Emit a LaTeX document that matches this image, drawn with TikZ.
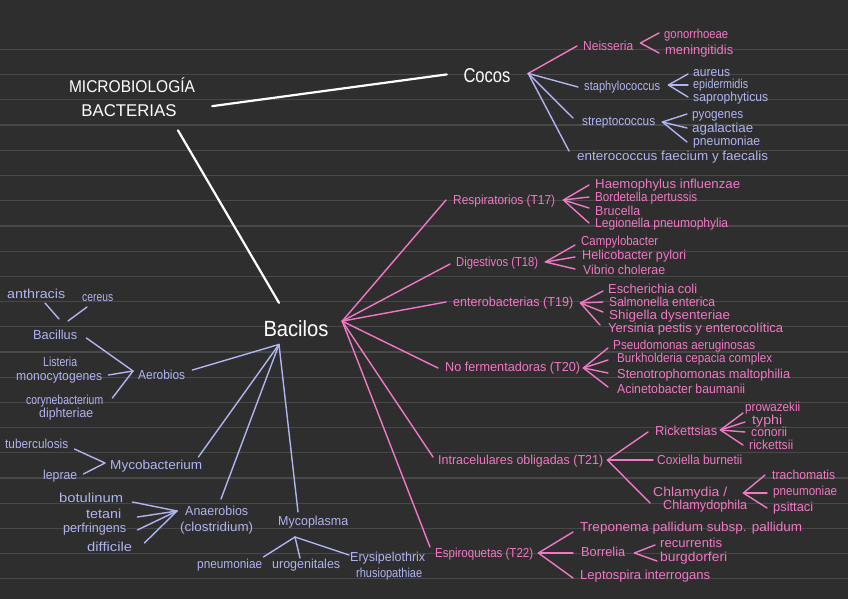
\documentclass[tikz,border=0pt]{standalone}
\usepackage{fontspec}
\setmainfont{Liberation Sans}
\usepackage{graphicx}
\definecolor{bg}{RGB}{46,46,46}
\definecolor{rulec}{RGB}{72,72,72}
\definecolor{pk}{RGB}{240,120,196}
\definecolor{lv}{RGB}{176,180,240}
\newcommand\fw[2]{\resizebox{#1pt}{\height}{#2}}
\begin{document}
\begin{tikzpicture}[x=1pt,y=-1pt,
 sm/.style={inner sep=0pt, anchor=west, font=\fontsize{13}{13}\selectfont, text height=7pt, text depth=0pt},
 P/.style={sm, text=pk}, L/.style={sm, text=lv},
 big/.style={inner sep=0pt, anchor=base, text=white},
 pl/.style={draw=pk, line width=1.4pt, line cap=round, line join=round},
 ll/.style={draw=lv, line width=1.4pt, line cap=round, line join=round},
 wl/.style={draw=white, line width=2.2pt, line cap=round}]
\useasboundingbox (0,0) rectangle (848,599);
\fill[bg] (0,0) rectangle (848,599);
\foreach \k in {0,...,21} \draw[rulec, line width=1.2pt] (0,{49.5+25.2*\k}) -- (848,{49.5+25.2*\k});

% main titles
\node[big, font=\fontsize{17}{17}\selectfont] (title1) at (132,93) {\fw{126}{MICROBIOLOGÍA}};
\node[big, font=\fontsize{17}{17}\selectfont] (title2) at (129,117) {\fw{95}{BACTERIAS}};
\node[big, font=\fontsize{20}{20}\selectfont] (cocos) at (487,83) {\fw{47}{Cocos}};
\node[big, font=\fontsize{22}{22}\selectfont] (bacilos) at (296,336) {\fw{65}{Bacilos}};
\draw[wl] ([shift={(35.5,-5)}]title2.east) -- ([shift={(-16.5,-1.7)}]cocos.west);
\draw[wl] ([shift={(49,13)}]title2.south) -- ([shift={(-17,-17)}]bacilos.north);

% Cocos branch
\node[P] (neis) at (583,47) {\fw{50}{Neisseria}};
\node[P] (gono) at (664,35) {\fw{64}{gonorrhoeae}};
\node[P] (meni) at (665,51) {\fw{68}{meningitidis}};
\node[L] (staph) at (584,87) {\fw{76}{staphylococcus}};
\node[L] (aur) at (693,73) {\fw{37}{aureus}};
\node[L] (epi) at (693,85) {\fw{55}{epidermidis}};
\node[L] (sapro) at (693,98) {\fw{75}{saprophyticus}};
\node[L] (strep) at (582,122) {\fw{73}{streptococcus}};
\node[L] (pyo) at (692,115) {\fw{51}{pyogenes}};
\node[L] (aga) at (692,129) {\fw{61}{agalactiae}};
\node[L] (pneuc) at (693,142) {\fw{67}{pneumoniae}};
\node[L] (entc) at (577,157) {\fw{191}{enterococcus faecium y faecalis}};

\coordinate (cfan) at ([shift={(17.5,-2.7)}]cocos.east);
\draw[pl] (cfan) -- ([shift={(-6,-1)}]neis.west);
\draw[ll] (cfan) -- ([shift={(-6,0)}]staph.west);
\draw[ll] (cfan) -- ([shift={(-9,-4)}]strep.west);
\draw[ll] (cfan) -- ([shift={(-8,-6)}]entc.west);
\coordinate (neisb) at ([shift={(7,-4)}]neis.east);
\draw[pl] ([shift={(-5,-2)}]gono.west) -- (neisb) -- ([shift={(-6,2)}]meni.west);
\coordinate (stab) at ([shift={(8,-2)}]staph.east);
\draw[ll] (stab) -- ([shift={(-5,1)}]aur.west);
\draw[ll] (stab) -- ([shift={(-5,0)}]epi.west);
\draw[ll] (stab) -- ([shift={(-5,-1)}]sapro.west);
\coordinate (strb) at ([shift={(7,0)}]strep.east);
\draw[ll] (strb) -- ([shift={(-5,-1)}]pyo.west);
\draw[ll] (strb) -- ([shift={(-5,-1)}]aga.west);
\draw[ll] (strb) -- ([shift={(-6,0)}]pneuc.west);

% Bacilos pink branch
\node[P] (resp) at (453,201) {\fw{102}{Respiratorios (T17)}};
\node[P] (hae) at (595,185) {\fw{145}{Haemophylus influenzae}};
\node[P] (bor) at (595,198) {\fw{102}{Bordetella pertussis}};
\node[P] (bru) at (595,212) {\fw{45}{Brucella}};
\node[P] (leg) at (595,224) {\fw{133}{Legionella pneumophylia}};
\node[P] (dig) at (456,263) {\fw{82}{Digestivos (T18)}};
\node[P] (cam) at (581,242) {\fw{77}{Campylobacter}};
\node[P] (hel) at (582,256) {\fw{104}{Helicobacter pylori}};
\node[P] (vib) at (583,271) {\fw{82}{Vibrio cholerae}};
\node[P] (ent) at (453,303) {\fw{120}{enterobacterias (T19)}};
\node[P] (esc) at (608,290) {\fw{89}{Escherichia coli}};
\node[P] (sal) at (609,303) {\fw{106}{Salmonella enterica}};
\node[P] (shi) at (609,316) {\fw{121}{Shigella dysenteriae}};
\node[P] (yer) at (608,329) {\fw{175}{Yersinia pestis y enterocolítica}};
\node[P] (nof) at (445,368) {\fw{135}{No fermentadoras (T20)}};
\node[P] (pse) at (613,346) {\fw{142}{Pseudomonas aeruginosas}};
\node[P] (bur) at (617,359) {\fw{155}{Burkholderia cepacia complex}};
\node[P] (ste) at (617,375) {\fw{173}{Stenotrophomonas maltophilia}};
\node[P] (aci) at (617,390) {\fw{128}{Acinetobacter baumanii}};
\node[P] (intra) at (438,461) {\fw{165}{Intracelulares obligadas (T21)}};
\node[P] (ric) at (655,432) {\fw{62}{Rickettsias}};
\node[P] (pro) at (745,408) {\fw{55}{prowazekii}};
\node[P] (typ) at (752,421) {\fw{30}{typhi}};
\node[P] (con) at (751,433) {\fw{36}{conorii}};
\node[P] (rick) at (749,446) {\fw{44}{rickettsii}};
\node[P] (cox) at (657,461) {\fw{85}{Coxiella burnetii}};
\node[P] (chl1) at (653,493) {\fw{74}{Chlamydia /}};
\node[P] (chl2) at (663,506) {\fw{84}{Chlamydophila}};
\node[P] (tra) at (772,476) {\fw{63}{trachomatis}};
\node[P] (pnc) at (773,492) {\fw{64}{pneumoniae}};
\node[P] (psi) at (773,508) {\fw{40}{psittaci}};
\node[P] (esp) at (435,554) {\fw{98}{Espiroquetas (T22)}};
\node[P] (tre) at (580,528) {\fw{222}{Treponema pallidum subsp. pallidum}};
\node[P] (borr) at (581,553) {\fw{44}{Borrelia}};
\node[P] (rec) at (660,544) {\fw{62}{recurrentis}};
\node[P] (bur2) at (660,558) {\fw{67}{burgdorferi}};
\node[P] (lep) at (580,576) {\fw{130}{Leptospira interrogans}};

\coordinate (bp) at ([shift={(13.5,-7)}]bacilos.east);
\draw[pl] (bp) -- ([shift={(-7,-1)}]resp.west);
\draw[pl] (bp) -- ([shift={(-6,1)}]dig.west);
\draw[pl] (bp) -- ([shift={(-7,-1)}]ent.west);
\draw[pl] (bp) -- ([shift={(-7,0)}]nof.west);
\draw[pl] (bp) -- ([shift={(-5,-4)}]intra.west);
\draw[pl] (bp) -- ([shift={(-5,-7)}]esp.west);

\coordinate (respb) at ([shift={(8,-1)}]resp.east);
\draw[pl] (respb) -- ([shift={(-6,0)}]hae.west);
\draw[pl] (respb) -- ([shift={(-6,-1)}]bor.west);
\draw[pl] (respb) -- ([shift={(-6,-4)}]bru.west);
\draw[pl] (respb) -- ([shift={(-6,-1)}]leg.west);
\coordinate (digb) at ([shift={(7,-1)}]dig.east);
\draw[pl] (digb) -- ([shift={(-6,3)}]cam.west);
\draw[pl] (digb) -- ([shift={(-7,1)}]hel.west);
\draw[pl] (digb) -- ([shift={(-8,-2)}]vib.west);
\coordinate (entb) at ([shift={(7,0)}]ent.east);
\draw[pl] (entb) -- ([shift={(-5,1)}]esc.west);
\draw[pl] (entb) -- ([shift={(-6,-1)}]sal.west);
\draw[pl] (entb) -- ([shift={(-6,-4)}]shi.west);
\draw[pl] (entb) -- ([shift={(-8,-4)}]yer.west);
\coordinate (nofb) at ([shift={(3,0)}]nof.east);
\draw[pl] (nofb) -- ([shift={(-5,2)}]pse.west);
\draw[pl] (nofb) -- ([shift={(-9,1)}]bur.west);
\draw[pl] (nofb) -- ([shift={(-9,-2)}]ste.west);
\draw[pl] (nofb) -- ([shift={(-9,-3)}]aci.west);
\coordinate (intrab) at ([shift={(4,-1)}]intra.east);
\draw[pl] (intrab) -- ([shift={(-7,0)}]ric.west);
\draw[pl] (intrab) -- ([shift={(-4,-1)}]cox.west);
\draw[pl] (intrab) -- ([shift={(-3,10)}]chl1.west);
\coordinate (ricb) at ([shift={(3,-2)}]ric.east);
\draw[pl] (ricb) -- ([shift={(-2,5)}]pro.west);
\draw[pl] (ricb) -- ([shift={(-7,1)}]typ.west);
\draw[pl] (ricb) -- ([shift={(-6,-1)}]con.west);
\draw[pl] (ricb) -- ([shift={(-6,-1)}]rick.west);
\coordinate (chlb) at ([shift={(16,0)}]chl1.east);
\draw[pl] (chlb) -- ([shift={(-7,-1)}]tra.west);
\draw[pl] (chlb) -- ([shift={(-6,1)}]pnc.west);
\draw[pl] (chlb) -- ([shift={(-6,0)}]psi.west);
\coordinate (espb) at ([shift={(5,-1)}]esp.east);
\draw[pl] (espb) -- ([shift={(-7,4)}]tre.west);
\draw[pl] (espb) -- ([shift={(-8,0)}]borr.west);
\draw[pl] (espb) -- ([shift={(-7,2)}]lep.west);
\coordinate (borrb) at ([shift={(9,0)}]borr.east);
\draw[pl] (borrb) -- ([shift={(-5,1)}]rec.west);
\draw[pl] (borrb) -- ([shift={(-3,3)}]bur2.west);

% Bacilos lavender branch
\node[L] (anth) at (7,295) {\fw{58}{anthracis}};
\node[L] (cer) at (82,298) {\fw{31}{cereus}};
\node[L] (bac) at (33,336) {\fw{44}{Bacillus}};
\node[L] (lis1) at (43,363) {\fw{34}{Listeria}};
\node[L] (lis2) at (16,377) {\fw{86}{monocytogenes}};
\node[L] (cor1) at (26,401) {\fw{77}{corynebacterium}};
\node[L] (cor2) at (39,414) {\fw{54}{diphteriae}};
\node[L] (aer) at (138,376) {\fw{47}{Aerobios}};
\node[L] (tub) at (5,445) {\fw{63}{tuberculosis}};
\node[L] (lepr) at (43,476) {\fw{34}{leprae}};
\node[L] (myc) at (110,466) {\fw{92}{Mycobacterium}};
\node[L] (bot) at (59,499) {\fw{64}{botulinum}};
\node[L] (tet) at (86,515) {\fw{35}{tetani}};
\node[L] (per) at (63,529) {\fw{63}{perfringens}};
\node[L] (dif) at (87,548) {\fw{45}{difficile}};
\node[L] (ana1) at (185,512) {\fw{63}{Anaerobios}};
\node[L] (ana2) at (180,528) {\fw{73}{(clostridium)}};
\node[L] (myp) at (278,522) {\fw{70}{Mycoplasma}};
\node[L] (pnm) at (197,565) {\fw{65}{pneumoniae}};
\node[L] (uro) at (272,565) {\fw{68}{urogenitales}};
\node[L] (ery1) at (350,558) {\fw{75}{Erysipelothrix}};
\node[L] (ery2) at (356,574) {\fw{66}{rhusiopathiae}};

\coordinate (bl) at ([shift={(-17,8)}]bacilos.south);
\draw[ll] (bl) -- ([shift={(7,-6)}]aer.east);
\draw[ll] (bl) -- ([shift={(-4,-9)}]myc.east);
\draw[ll] (bl) -- ([shift={(36,-13)}]ana1.west);
\draw[ll] (bl) -- ([shift={(20,-10)}]myp.west);

\coordinate (aerb) at ([shift={(-5,-5)}]aer.west);
\draw[ll] (aerb) -- ([shift={(9,2)}]bac.east);
\draw[ll] (aerb) -- ([shift={(6,-2)}]lis2.east);
\draw[ll] (aerb) -- ([shift={(9,-3)}]cor1.east);
\draw[ll] ([shift={(38,8)}]anth.west) -- ([shift={(26,-17)}]bac.west);
\draw[ll] ([shift={(5,9)}]cer.west) -- ([shift={(35,-15)}]bac.west);
\coordinate (mycb) at ([shift={(-5,-3)}]myc.west);
\draw[ll] ([shift={(6,4)}]tub.east) -- (mycb) -- ([shift={(6,-2)}]lepr.east);
\coordinate (anab) at ([shift={(-8,-1)}]ana1.west);
\draw[ll] (anab) -- ([shift={(9,3)}]bot.east);
\draw[ll] (anab) -- ([shift={(16,2)}]tet.east);
\draw[ll] (anab) -- ([shift={(11,1)}]per.east);
\draw[ll] (anab) -- ([shift={(12,-5)}]dif.east);
\coordinate (mypb) at ([shift={(17,15)}]myp.west);
\draw[ll] (mypb) -- ([shift={(1,-8)}]pnm.east);
\draw[ll] (mypb) -- ([shift={(28,-7)}]uro.west);
\draw[ll] (mypb) -- ([shift={(-1,-3)}]ery1.west);
\end{tikzpicture}
\end{document}
